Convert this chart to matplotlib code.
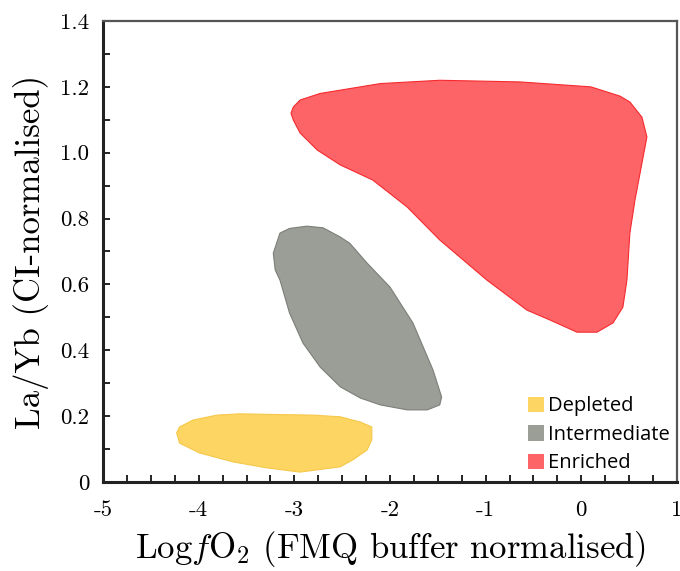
import matplotlib
matplotlib.use("Agg")
from matplotlib import pyplot as plt
from matplotlib.patches import Polygon, Patch

# outline points of each field (LogfO2, La/Yb)
depleted_x = [-4.23, -4.20, -4.06, -3.81, -3.57, -3.20, -2.80, -2.52, -2.31, -2.19, -2.19,
              -2.24, -2.39, -2.52, -2.94, -3.29, -3.64, -3.99, -4.20]
depleted_y = [0.149, 0.167, 0.188, 0.203, 0.207, 0.205, 0.203, 0.198, 0.182, 0.167, 0.128,
              0.097, 0.067, 0.046, 0.030, 0.043, 0.061, 0.088, 0.118]

intermediate_x = [-3.22, -3.15, -3.05, -2.87, -2.70, -2.52, -2.42, -2.24, -2.00, -1.76,
                  -1.55, -1.46, -1.48, -1.61, -1.82, -2.10, -2.31, -2.52, -2.73, -2.91, -3.05,
                  -3.15, -3.20]
intermediate_y = [0.695, 0.756, 0.770, 0.777, 0.772, 0.744, 0.725, 0.665, 0.592, 0.483,
                  0.340, 0.258, 0.234, 0.219, 0.219, 0.234, 0.255, 0.289, 0.349, 0.422, 0.513,
                  0.613, 0.644]

enriched_x = [-3.01, -2.94, -2.73, -2.52, -2.10, -1.48, -0.64, 0.10, 0.404, 0.508, 0.634,
              0.686, 0.561, 0.508, 0.477, 0.435, 0.331, 0.164, -0.045, -0.328, -0.568, -0.986,
              -1.48, -1.82, -2.18, -2.52, -2.76, -2.94, -3.01, -3.035]
enriched_y = [1.139, 1.16, 1.18, 1.19, 1.21, 1.22, 1.215, 1.20, 1.172, 1.154, 1.108,
              1.048, 0.856, 0.756, 0.613, 0.531, 0.483, 0.455, 0.455, 0.492, 0.522, 0.613,
              0.735, 0.835, 0.917, 0.963, 1.008, 1.06, 1.099, 1.12]

names = ["Depleted", "Intermediate", "Enriched"]
fills = ["#fdd562", "#9b9e97", "#fd6467"]
edges = ["#f5c84a", "#7c7f78", "#f52a2e"]

x_ticks = [-5, -4, -3, -2, -1, 0, 1]
x_labels = ["-5", "-4", "-3", "-2", "-1", "0", "1"]
y_ticks = [0, 0.2, 0.4, 0.6, 0.8, 1.0, 1.2, 1.4]
y_labels = ["0", "0.2", "0.4", "0.6", "0.8", "1.0", "1.2", "1.4"]

plt.rcParams["font.family"] = ["cmr10", "DejaVu Serif"]
plt.rcParams["mathtext.fontset"] = "cm"

fig = plt.figure(figsize=(6.8, 5.71), dpi=100)
ax = fig.add_axes([0.1515, 0.1559, 0.844, 0.8073])

fields = [(depleted_x, depleted_y), (intermediate_x, intermediate_y), (enriched_x, enriched_y)]
for (xs, ys), fc, ec in zip(fields, fills, edges):
    ax.add_patch(Polygon(list(zip(xs, ys)), closed=True, facecolor=fc, edgecolor=ec,
                         linewidth=0.8, joinstyle="round"))

ax.set_xlim(-5, 1)
ax.set_ylim(0, 1.4)
ax.set_xticks(x_ticks)
ax.set_xticklabels(x_labels)
ax.set_yticks(y_ticks)
ax.set_yticklabels(y_labels)
ax.set_xticks([v / 4 for v in range(-20, 5)], minor=True)
ax.set_yticks([v / 10 for v in range(0, 15)], minor=True)
ax.tick_params(which="both", direction="in", length=5, width=1.2, labelsize=16.5)
ax.tick_params(axis="x", pad=13)
ax.tick_params(axis="y", pad=10)

for side in ["left", "bottom"]:
    ax.spines[side].set_linewidth(2.2)
    ax.spines[side].set_color("#222222")
for side in ["top", "right"]:
    ax.spines[side].set_linewidth(1.6)
    ax.spines[side].set_color("#555555")

ax.set_xlabel("Log$f$O$_2$ (FMQ buffer normalised)", fontsize=25, labelpad=7)
ax.set_ylabel("La/Yb (CI-normalised)", fontsize=25, labelpad=8)

handles = [Patch(facecolor=c, edgecolor="none") for c in fills]
ax.legend(handles, names, loc="lower right", frameon=False, bbox_to_anchor=(1.012, -0.012),
          prop={"family": "Open Sans", "size": 14.5}, handlelength=0.8, handleheight=0.8,
          handletextpad=0.2, labelspacing=0.42, borderaxespad=0.3)

fig.savefig("out.png", dpi=100)
